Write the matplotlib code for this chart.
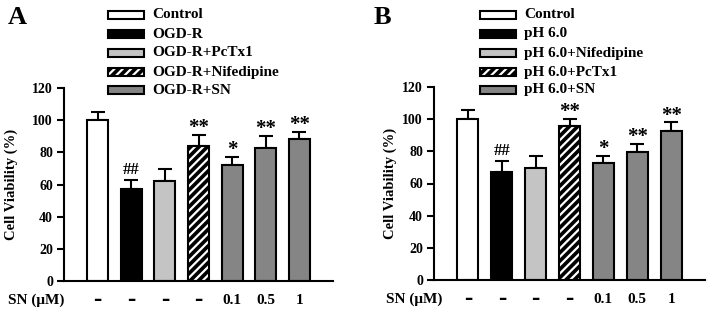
import matplotlib
matplotlib.use('Agg')
import matplotlib.pyplot as plt
from matplotlib.patches import Rectangle

plt.rcParams['font.family'] = ['Liberation Serif', 'DejaVu Serif']
plt.rcParams['font.weight'] = 'bold'
plt.rcParams['hatch.linewidth'] = 1.6

# panel A data
labels_a = ['Control', 'OGD-R', 'OGD-R+PcTx1', 'OGD-R+Nifedipine', 'OGD-R+SN']
vals_a = [100, 57.5, 62, 84, 72, 82.5, 88.5]
errs_a = [5, 5.5, 7.5, 7, 5, 7.5, 4]
marks_a = ['', '##', '', '**', '*', '**', '**']

# panel B data
labels_b = ['Control', 'pH 6.0', 'pH 6.0+Nifedipine', 'pH 6.0+PcTx1', 'pH 6.0+SN']
vals_b = [100, 67, 69.5, 95.5, 73, 79.5, 92.5]
errs_b = [6, 7, 7.5, 4.5, 4, 5, 5.5]
marks_b = ['', '##', '', '**', '*', '**', '**']

sn_doses = ['\u2013', '\u2013', '\u2013', '\u2013', '0.1', '0.5', '1']
yticks = [0, 20, 40, 60, 80, 100, 120]

# fill colour for each bar, hatched index
fills = ['white', 'black', '#c4c4c4', 'black', '#858585', '#858585', '#858585']
hatched = 3
legend_fills = ['white', 'black', '#c4c4c4', 'black', '#858585']

W, H = 709, 312
fig = plt.figure(figsize=(W / 100, H / 100), dpi=100)


def px(x0, y0, x1, y1):
    # pixel box -> figure fraction rect
    return [x0 / W, 1 - y1 / H, (x1 - x0) / W, (y1 - y0) / H]


def draw_panel(ax, vals, errs, marks, letter, lx, labels, leg_x, sn_x, lpad):
    for i, (v, e) in enumerate(zip(vals, errs)):
        if i == hatched:
            ax.bar(i, v, width=0.62, color='black', hatch='////',
                   edgecolor='white', linewidth=0, zorder=2)
            ax.bar(i, v, width=0.62, fill=False, edgecolor='black',
                   linewidth=1.5, zorder=3)
        else:
            ax.bar(i, v, width=0.62, color=fills[i], edgecolor='black',
                   linewidth=1.5, zorder=2)
        ax.errorbar(i, v, yerr=[[0], [e]], fmt='none', ecolor='black',
                    elinewidth=1.5, capsize=5, capthick=1.5, zorder=1)
        if marks[i]:
            fs = 12 if marks[i] == '##' else 15
            off = 1.0 if marks[i] == '##' else -2.0
            ax.text(i, v + e + off, marks[i], ha='center', va='bottom',
                    fontsize=fs, fontweight='bold')
    ax.set_xlim(-1, 7)
    ax.set_ylim(0, 120)
    ax.set_yticks(yticks)
    ax.set_xticks([])
    for s in ['top', 'right']:
        ax.spines[s].set_visible(False)
    ax.spines['left'].set_linewidth(1.5)
    ax.spines['bottom'].set_linewidth(1.5)
    ax.tick_params(axis='y', direction='out', length=5, width=1.5,
                   labelsize=10, pad=3)
    for t in ax.get_yticklabels():
        t.set_fontweight('bold')
    ax.set_ylabel('Cell Viability (%)', fontsize=10.5, fontweight='bold',
                  labelpad=lpad)
    # dose row
    for i, d in enumerate(sn_doses):
        if d == '\u2013':
            ax.text(i, -0.10, d, transform=ax.get_xaxis_transform(),
                    ha='center', va='center', fontsize=12, fontweight='bold',
                    family='DejaVu Sans')
        else:
            ax.text(i, -0.10, d, transform=ax.get_xaxis_transform(),
                    ha='center', va='center', fontsize=11, fontweight='bold')
    ax.text(sn_x, -0.10, 'SN (\u03bcM)', transform=ax.transAxes,
            ha='center', va='center', fontsize=11, fontweight='bold')
    # panel letter
    fig.text(lx / W, 1 - 17 / H, letter, ha='center', va='center',
             fontsize=19, fontweight='bold')
    # legend
    rows = [15, 34, 53, 72, 90]
    for j, (lab, y) in enumerate(zip(labels, rows)):
        box = (leg_x / W, 1 - (y + 3.5) / H)
        if j == hatched:
            fig.patches.append(Rectangle(box, 36 / W, 7 / H,
                                         transform=fig.transFigure,
                                         facecolor='black', hatch='////',
                                         edgecolor='white', linewidth=0))
            fig.patches.append(Rectangle(box, 36 / W, 7 / H,
                                         transform=fig.transFigure,
                                         fill=False, edgecolor='black',
                                         linewidth=1.5))
        else:
            fig.patches.append(Rectangle(box, 36 / W, 7 / H,
                                         transform=fig.transFigure,
                                         facecolor=legend_fills[j],
                                         edgecolor='black', linewidth=1.5))
        fig.text((leg_x + 44) / W, 1 - y / H, lab, ha='left', va='center',
                 fontsize=11, fontweight='bold')


ax_a = fig.add_axes(px(64, 88, 333, 281))
draw_panel(ax_a, vals_a, errs_a, marks_a, 'A', 17, labels_a, 108, -0.104, 10)

ax_b = fig.add_axes(px(434, 87, 705, 280))
draw_panel(ax_b, vals_b, errs_b, marks_b, 'B', 382, labels_b, 480, -0.074, 4)

fig.savefig('out.png', dpi=100)
